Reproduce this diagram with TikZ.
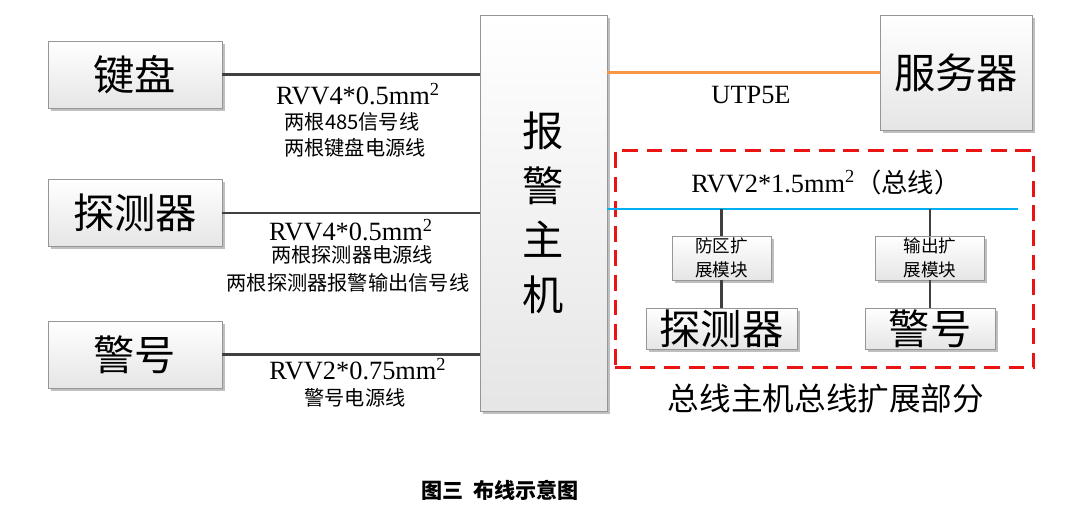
\documentclass[tikz,border=0pt]{standalone}
\usepackage{fontspec}
\setmainfont{Liberation Serif}
\newfontfamily\cjk{Noto Sans CJK SC}
\usepackage{tikz}
\usetikzlibrary{positioning,shadows,calc}
\usepackage{xcolor}
\definecolor{wirecol}{RGB}{64,64,64}
\definecolor{buscol}{RGB}{0,176,240}
\definecolor{utpcol}{RGB}{247,150,70}
\definecolor{framecol}{RGB}{235,20,20}
\definecolor{edgecol}{RGB}{150,150,150}

\begin{document}
\begin{tikzpicture}[x=0.02cm, y=-0.02cm,
  every node/.style={inner sep=0pt},
  dev/.style={draw=edgecol, top color=white, bottom color=black!10, align=center,
    drop shadow={shadow xshift=1.6pt, shadow yshift=-1.6pt, fill=black!25, opacity=1}},
  big/.style={font=\cjk\fontsize{23.5}{28}\selectfont},
  mid/.style={font=\cjk\fontsize{18}{22}\selectfont},
  small/.style={font=\cjk\fontsize{11.5}{14}\selectfont},
  tiny/.style={font=\cjk\fontsize{10}{14}\selectfont},
  cable/.style={font=\fontsize{15}{18}\selectfont},
  wire/.style={draw=wirecol, line width=1.4pt},
]
\useasboundingbox (0,0) rectangle (1080,521);
% left side devices
\node[dev, big, minimum width=3.48cm, minimum height=1.34cm] (kbd) at (135,74.5) {键盘};
\node[dev, big, minimum width=3.48cm, minimum height=1.34cm] (det) at (135,213) {探测器};
\node[dev, big, minimum width=3.48cm, minimum height=1.34cm] (alarm) at (135,354.5) {警号};
% alarm host
\node[dev, big, minimum width=2.54cm, minimum height=7.92cm,
  font=\cjk\fontsize{23.5}{31}\selectfont] (host) at (543.5,213) {报\\警\\主\\机};
\node[dev, big, minimum width=3.04cm, minimum height=2.3cm] (server) at (956,72.5) {服务器};
% bus extension
\node[draw=framecol, line width=1.7pt, dash pattern=on 9pt off 5pt,
  minimum width=8.38cm, minimum height=4.36cm] (busframe) at (824.5,259) {};
\coordinate (busend) at (1018,209);
\node[dev, tiny, minimum width=1.98cm, minimum height=0.88cm] (zone) at (721.5,258) {防区扩\\展模块};
\node[dev, tiny, minimum width=2.18cm, minimum height=0.88cm] (outmod) at (930,258) {输出扩\\展模块};
\node[dev, big, minimum width=3.02cm, minimum height=0.82cm] (det2) at (721.5,328.5) {探测器};
\node[dev, big, minimum width=2.6cm, minimum height=0.82cm] (alarm2) at (930,328.5) {警号};

% cables
\draw[wire] (kbd.east) -- (kbd.east -| host.west);
\draw[wire] (det.east) -- (det.east -| host.west);
\draw[wire] (alarm.east) -- (alarm.east -| host.west);
\draw[draw=utpcol, line width=1.5pt] (server.west -| host.east) -- (server.west);
\draw[draw=buscol, line width=1.5pt] (busend -| host.east) -- (busend);
\draw[wire] (zone.north |- busend) -- (zone.north);
\draw[wire] (zone.south) -- (det2.north);
\draw[wire] (outmod.north |- busend) -- (outmod.north);
\draw[wire] (outmod.south) -- (alarm2.north);

% labels
\node[cable] (k1) at (358,94) {RVV4*0.5mm\textsuperscript{2}};
\node[small] (k2) at (352,122) {两根485信号线};
\node[small] (k3) at (355,148) {两根键盘电源线};
\node[cable] (d1) at (351,230) {RVV4*0.5mm\textsuperscript{2}};
\node[small] (d2) at (352,255) {两根探测器电源线};
\node[small] (d3) at (348,283) {两根探测器报警输出信号线};
\node[cable] (a1) at (358,369) {RVV2*0.75mm\textsuperscript{2}};
\node[small] (a2) at (355,398) {警号电源线};
\node[cable] (utp) at (751,95) {UTP5E};
\node[cable] (buslbl) at (826,182) {RVV2*1.5mm\textsuperscript{2}{\cjk （总线）}};
\node[mid] (framelbl) at (826,398) {总线主机总线扩展部分};
\node[font=\cjk\bfseries\fontsize{12}{14}\selectfont] (caption) at (500,490) {图三\ \ 布线示意图};
\end{tikzpicture}
\end{document}
